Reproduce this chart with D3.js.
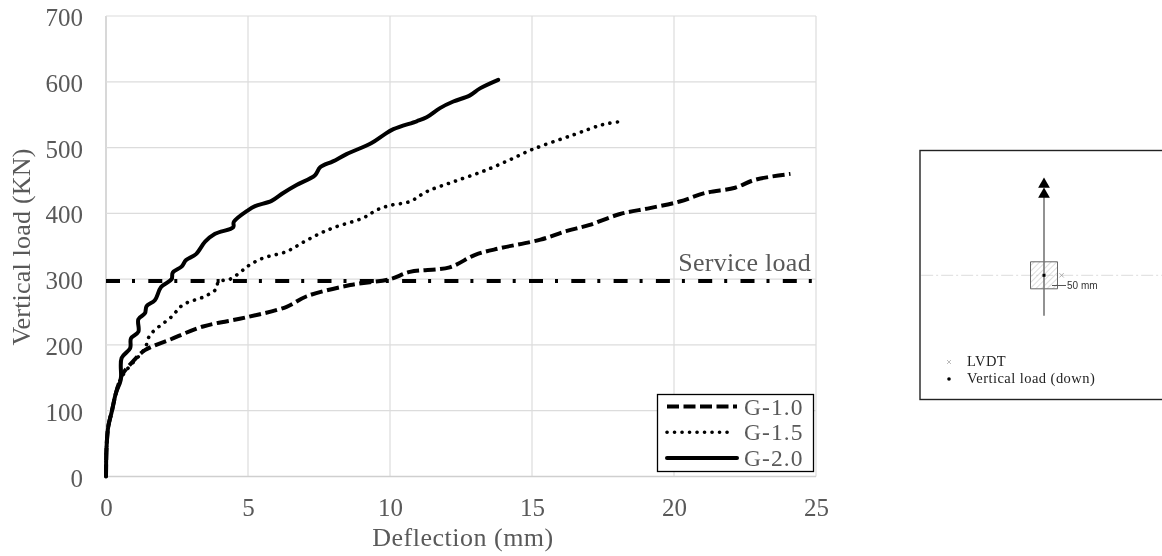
<!DOCTYPE html>
<html>
<head>
<meta charset="utf-8">
<script src="https://cdnjs.cloudflare.com/ajax/libs/d3/7.8.5/d3.min.js"></script>
<style>
    html, body { margin: 0; padding: 0; background: #fff; overflow: hidden; }
    text { font-family: "Liberation Serif", serif; }
    svg { filter: blur(0.35px); }
</style>
</head>
<body>
<div id="chart"></div>
<script>
// Values: [deflection mm, load kN]
var g10 = [[0,0],[0.02,45],[0.08,76],[0.2,98],[0.35,127],[0.5,147],[0.6,157],[0.95,175],[1.37,192],[2.25,208],[3.42,228],[4.95,242],[6.36,258],[7.07,274],[8.6,291],[10,300],[10.7,311],[12.1,318],[13,337],[13.87,347],[15.3,360],[16.2,373],[17,382],[18.1,399],[19.15,408],[20.2,418],[21.1,431],[22.15,439],[22.85,451],[24.1,460]];
var g15 = [[0,0],[0.02,45],[0.08,76],[0.2,98],[0.35,127],[0.5,147],[0.67,159],[1.37,195],[1.55,215],[2.31,243],[2.71,261],[3.49,274],[3.9,286],[3.95,296],[4.37,300],[4.83,314],[5.07,322],[5.53,332],[6.36,342],[6.94,356],[7.42,367],[8,378],[9.05,393],[9.53,405],[10,412],[10.7,418],[11.29,433],[12.23,448],[13.4,466],[14.5,487],[15,497],[16.5,520],[17.5,535],[18.2,540]];
var g20 = [[0,0],[0.02,45],[0.08,76],[0.2,98],[0.35,127],[0.52,147],[0.55,180],[0.85,195],[0.88,210],[1.14,220],[1.14,239],[1.37,248],[1.43,259],[1.72,268],[1.94,288],[2.31,300],[2.35,310],[2.66,319],[2.82,329],[3.17,338],[3.49,357],[3.84,369],[4.48,379],[4.5,387],[5.01,405],[5.25,411],[5.83,419],[6.24,431],[6.71,443],[7.36,458],[7.54,470],[7.99,479],[8.47,490],[9.35,507],[9.77,519],[10.12,528],[10.94,540],[11.29,546],[11.76,560],[12.23,570],[12.8,579],[13.17,590],[13.81,603]];
var serviceLoad = 297;
var xTicks = [0, 5, 10, 15, 20, 25];
var yTicks = [0, 100, 200, 300, 400, 500, 600, 700];
var seriesNames = ["G-1.0", "G-1.5", "G-2.0"];

// Column location sketch, in mm from the column centre
var sketchStem = [[0, -290], [0, 150]];
var sketchCross = [[-455, 0], [437, 0]];
var sketchColumn = [[-50, -50], [50, -50], [50, 50], [-50, 50]];
var sketchArrows = [-337, -300];
var lvdtPoint = [65, 0];
var loadPoint = [0, 0];
var sketchLegend = ["LVDT", "Vertical load (down)"];
var dimLabel = "50 mm";

var svg = d3.select("#chart").append("svg")
    .attr("width", 1162)
    .attr("height", 556);

var textColor = "#595959";
var gridColor = "#dcdcdc";
var fontSize = "26px";
var tickFontSize = "25px";

var x = d3.scaleLinear().domain([0, 25]).range([106, 816]);
var y = d3.scaleLinear().domain([0, 700]).range([476.5, 16]);

// Gridlines
svg.append("g").selectAll("line").data(xTicks)
    .join("line")
    .attr("x1", d => x(d)).attr("x2", d => x(d))
    .attr("y1", y(0)).attr("y2", y(700))
    .attr("stroke", d => d == 0 ? "#cfcfcf" : gridColor)
    .attr("stroke-width", d => d == 0 ? 1.6 : 1.2);
svg.append("g").selectAll("line").data(yTicks)
    .join("line")
    .attr("x1", x(0)).attr("x2", x(25))
    .attr("y1", d => y(d)).attr("y2", d => y(d))
    .attr("stroke", d => d == 0 ? "#cfcfcf" : gridColor)
    .attr("stroke-width", d => d == 0 ? 1.6 : 1.2);

// Axes, lines hidden because the gridlines already draw them
var bottomAxis = d3.axisBottom(x).tickValues(xTicks).tickSize(0).tickPadding(22);
var leftAxis = d3.axisLeft(y).tickValues(yTicks).tickSize(0).tickPadding(23);

var xAxis = svg.append("g").attr("transform", `translate(0, ${y(0)})`).call(bottomAxis);
var yAxis = svg.append("g").attr("transform", `translate(${x(0)}, 0)`).call(leftAxis);
[xAxis, yAxis].forEach(function(a) {
    a.select(".domain").remove();
    a.selectAll("text")
        .style("font-family", '"Liberation Serif", serif')
        .style("font-size", tickFontSize)
        .attr("fill", textColor);
});
yAxis.selectAll("text").attr("dy", "0.38em");

svg.append("text")
    .attr("transform", "translate(30, 247) rotate(-90)")
    .attr("text-anchor", "middle")
    .attr("fill", textColor)
    .style("font-size", fontSize)
    .style("letter-spacing", "0.2px")
    .text("Vertical load (KN)");

svg.append("text")
    .attr("x", 463).attr("y", 546)
    .attr("text-anchor", "middle")
    .attr("fill", textColor)
    .style("font-size", fontSize)
    .style("letter-spacing", "0.5px")
    .text("Deflection (mm)");

// Service load line
svg.append("line")
    .attr("x1", x(0)).attr("x2", x(25) - 4)
    .attr("y1", y(serviceLoad)).attr("y2", y(serviceLoad))
    .attr("stroke", "#000").attr("stroke-width", 4)
    .attr("stroke-dasharray", "14 12 3 13.3");

svg.append("text")
    .attr("x", 811).attr("y", 271)
    .attr("text-anchor", "end")
    .attr("fill", textColor)
    .style("font-size", fontSize)
    .style("letter-spacing", "0.3px")
    .text("Service load");

// Curves
var line = d3.line()
    .x(d => x(d[0]))
    .y(d => y(d[1]))
    .curve(d3.curveCatmullRom.alpha(0.5));

var styles = [
    { width: 4, dash: "12 4.5", cap: "butt" },
    { width: 3.6, dash: "0.1 7.4", cap: "round" },
    { width: 4, dash: null, cap: "round" }
];

svg.append("g").selectAll("path").data([g10, g15, g20])
    .join("path")
    .attr("d", line)
    .attr("fill", "none")
    .attr("stroke", "#000")
    .attr("stroke-width", (d, i) => styles[i].width)
    .attr("stroke-dasharray", (d, i) => styles[i].dash)
    .attr("stroke-linecap", (d, i) => styles[i].cap)
    .attr("stroke-linejoin", "round");

// Legend
var legend = svg.append("g");
legend.append("rect")
    .attr("x", 657.5).attr("y", 394.5)
    .attr("width", 156).attr("height", 77)
    .attr("fill", "#fff").attr("stroke", "#000").attr("stroke-width", 1.3);

var legendRow = d3.scalePoint().domain(seriesNames).range([406.5, 458]);

legend.selectAll("line").data(seriesNames)
    .join("line")
    .attr("x1", 667).attr("x2", (d, i) => i == 1 ? 733 : 737)
    .attr("y1", d => legendRow(d)).attr("y2", d => legendRow(d))
    .attr("stroke", "#000")
    .attr("stroke-width", (d, i) => styles[i].width)
    .attr("stroke-dasharray", (d, i) => styles[i].dash)
    .attr("stroke-linecap", (d, i) => styles[i].cap);

legend.selectAll("text").data(seriesNames)
    .join("text")
    .attr("x", 744)
    .attr("y", d => legendRow(d) + 8)
    .attr("fill", textColor)
    .style("font-size", "23.5px")
    .style("letter-spacing", "1.1px")
    .text(d => d);

// Right hand sketch
var sx = d3.scaleLinear().domain([-100, 100]).range([1017, 1071]);
var sy = d3.scaleLinear().domain([-100, 100]).range([248.3, 302.3]);
var sketchLine = d3.line().x(d => sx(d[0])).y(d => sy(d[1]));

var defs = svg.append("defs");
var hatch = defs.append("pattern")
    .attr("id", "hatch")
    .attr("width", 4).attr("height", 4)
    .attr("patternUnits", "userSpaceOnUse")
    .attr("patternTransform", "rotate(45)");
hatch.append("line")
    .attr("x1", 0).attr("x2", 0).attr("y1", 0).attr("y2", 4)
    .attr("stroke", "#bbb").attr("stroke-width", 1);

svg.append("rect")
    .attr("x", 920).attr("y", 150.5)
    .attr("width", 260).attr("height", 249)
    .attr("fill", "#fff").attr("stroke", "#222").attr("stroke-width", 1.4);

svg.append("path")
    .attr("d", sketchLine(sketchCross))
    .attr("stroke", "#dcdcdc").attr("stroke-width", 1)
    .attr("stroke-dasharray", "12 3 2 3");

svg.append("path")
    .attr("d", sketchLine(sketchColumn) + "Z")
    .attr("fill", "url(#hatch)")
    .attr("stroke", "#666").attr("stroke-width", 1);

svg.append("path")
    .attr("d", sketchLine(sketchStem))
    .attr("stroke", "#777").attr("stroke-width", 1.6);

svg.append("g").selectAll("path").data(sketchArrows)
    .join("path")
    .attr("d", d3.symbol().type(d3.symbolTriangle).size(60))
    .attr("transform", d => `translate(${sx(0)}, ${sy(d)})`)
    .attr("fill", "#000");

svg.append("path")
    .attr("d", d3.symbol().type(d3.symbolTimes).size(14))
    .attr("transform", `translate(${sx(lvdtPoint[0])}, ${sy(lvdtPoint[1])})`)
    .attr("fill", "none").attr("stroke", "#999").attr("stroke-width", 0.8);

svg.append("rect")
    .attr("x", sx(loadPoint[0]) - 1.5).attr("y", sy(loadPoint[1]) - 1.5)
    .attr("width", 3).attr("height", 3)
    .attr("fill", "#000");

// 50 mm dimension
svg.append("line")
    .attr("x1", 1052).attr("x2", 1066)
    .attr("y1", 285.5).attr("y2", 285.5)
    .attr("stroke", "#555").attr("stroke-width", 1);
svg.append("text")
    .attr("x", 1067).attr("y", 289)
    .attr("fill", "#333")
    .style("font-family", '"Liberation Sans", sans-serif')
    .style("font-size", "10px")
    .text(dimLabel);

// Sketch legend
var sketchRow = d3.scalePoint().domain(sketchLegend).range([362, 379]);
svg.append("g").selectAll("text").data(sketchLegend)
    .join("text")
    .attr("x", 967)
    .attr("y", d => sketchRow(d) + 3.5)
    .attr("fill", "#222")
    .style("font-size", "14.5px")
    .style("letter-spacing", "0.45px")
    .text(d => d);

svg.append("path")
    .attr("d", d3.symbol().type(d3.symbolTimes).size(12))
    .attr("transform", `translate(949, ${sketchRow(sketchLegend[0])})`)
    .attr("fill", "none").attr("stroke", "#aaa").attr("stroke-width", 0.8);
svg.append("circle")
    .attr("cx", 949).attr("cy", sketchRow(sketchLegend[1]))
    .attr("r", 1.8)
    .attr("fill", "#000");
</script>
</body>
</html>
